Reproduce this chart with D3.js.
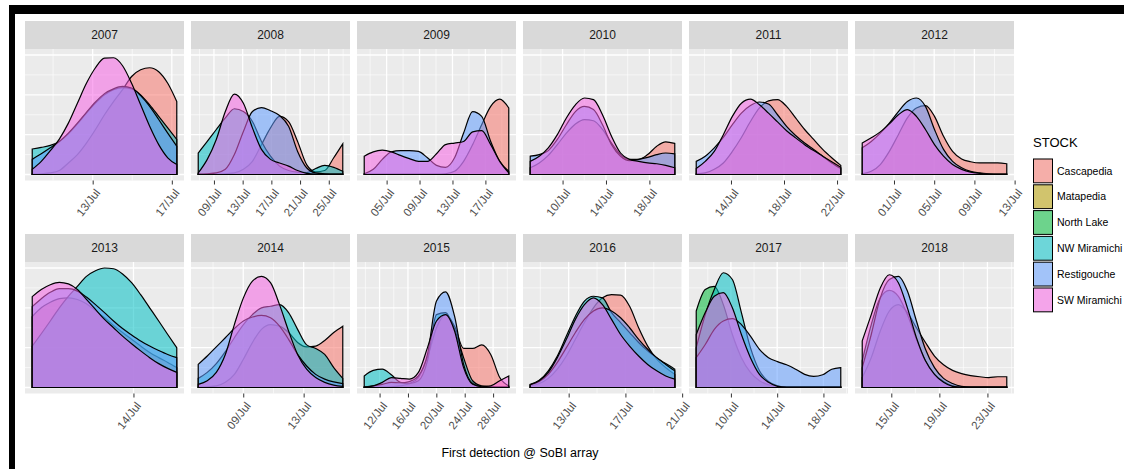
<!DOCTYPE html>
<meta charset="utf-8">
<body style="margin:0;background:#fff">
<script src="https://d3js.org/d3.v7.min.js"></script>
<script>

// facets, one per year; x range = first/last detection, as day of July
var years    = [2007, 2008, 2009, 2010, 2011, 2012, 2013, 2014, 2015, 2016, 2017, 2018];
var firstDay = [9.945, 6.81, 2.28, 7.02, 11.38, -2.16, 12.317, 6.02, 9.835, 10.29, 7.0, 12.58];
var lastDay  = [17.25, 26.95, 19.84, 20.34, 22.28, 12.22, 14.72, 15.59, 30.21, 20.48, 19.5, 24.61];
var tickDays = [[13, 17], [9, 13, 17, 21, 25], [5, 9, 13, 17], [10, 14, 18], [14, 18, 22], [1, 5, 9, 13],
                [14], [9, 13], [12, 16, 20, 24, 28], [13, 17, 21], [10, 14, 18], [15, 19, 23]];

var stocks = ["Cascapedia", "Matapedia", "North Lake", "NW Miramichi", "Restigouche", "SW Miramichi"];

// density read at 17 evenly spaced days between firstDay and lastDay (null = stock not detected)
var cascapedia = [
  [.001,.002,.004,.010,.029,.050,.079,.113,.150,.183,.213,.246,.263,.268,.258,.229,.183],
  [.001,.001,.001,.002,.004,.013,.033,.075,.117,.146,.133,.083,.025,.007,.010,.042,.077],
  [.001,.001,.001,.001,.001,.001,.001,.001,.001,.002,.008,.033,.075,.125,.171,.189,.167],
  [.017,.029,.048,.075,.104,.127,.138,.135,.113,.079,.050,.038,.038,.050,.071,.082,.078],
  [.002,.004,.013,.029,.058,.093,.133,.167,.185,.188,.171,.142,.113,.088,.063,.042,.023],
  [.002,.008,.025,.058,.100,.142,.167,.173,.146,.096,.058,.039,.032,.029,.029,.029,.027],
  [.178,.200,.214,.223,.225,.221,.210,.193,.175,.156,.138,.121,.104,.088,.075,.063,.050],
  [.001,.002,.004,.013,.033,.071,.113,.146,.158,.154,.138,.113,.102,.104,.118,.138,.154],
  [.001,.001,.001,.002,.004,.010,.025,.075,.150,.183,.154,.098,.098,.107,.083,.025,.004],
  [.004,.010,.023,.046,.079,.121,.163,.200,.225,.233,.232,.204,.150,.104,.071,.050,.033],
  null,
  [.025,.075,.142,.192,.208,.188,.150,.113,.079,.057,.043,.035,.030,.027,.025,.027,.027]
];
var matapedia = [null, null, null, null, null, null, null, null, null, null, null, null];
var northLake = [null, null, null, null, null, null, null, null, null, null,
  [.192,.246,.254,.208,.133,.075,.038,.017,.007,.003,.001,.001,.001,.001,.001,.001,.001],
  null];
var nwMiramichi = [
  [.064,.068,.073,.083,.102,.127,.154,.179,.200,.213,.218,.215,.200,.175,.146,.117,.088],
  [.054,.083,.113,.142,.165,.158,.133,.083,.046,.021,.010,.006,.005,.015,.023,.018,.008],
  null, null, null, null,
  [.104,.135,.167,.200,.229,.254,.279,.293,.300,.298,.285,.263,.233,.200,.167,.133,.100],
  [.023,.038,.060,.090,.125,.158,.183,.200,.204,.208,.188,.146,.107,.098,.083,.050,.023],
  [.029,.043,.046,.032,.013,.010,.017,.067,.183,.188,.146,.075,.017,.004,.002,.001,.001],
  [.008,.018,.042,.079,.129,.179,.217,.229,.225,.188,.163,.138,.113,.092,.075,.060,.046],
  [.100,.183,.246,.288,.271,.188,.100,.042,.015,.004,.001,.001,.001,.001,.001,.001,.001],
  [.067,.158,.225,.244,.229,.183,.121,.067,.033,.015,.004,.001,.001,.001,.001,.001,.001]
];
var restigouche = [
  [.038,.052,.067,.083,.104,.129,.156,.182,.203,.215,.221,.217,.198,.171,.138,.104,.071],
  [.001,.002,.004,.013,.050,.108,.158,.168,.160,.148,.121,.058,.017,.004,.002,.001,.001],
  [.002,.013,.038,.057,.060,.060,.058,.042,.023,.018,.042,.104,.158,.146,.083,.033,.008],
  [.046,.050,.060,.088,.125,.158,.171,.163,.125,.075,.046,.035,.038,.043,.050,.054,.052],
  [.033,.046,.067,.093,.125,.154,.173,.182,.177,.150,.121,.098,.079,.063,.046,.029,.015],
  [.067,.083,.104,.129,.158,.183,.192,.171,.113,.063,.033,.017,.008,.004,.002,.001,.001],
  [.203,.223,.239,.248,.248,.242,.227,.208,.188,.167,.148,.132,.117,.104,.093,.083,.075],
  [.058,.079,.102,.125,.148,.167,.177,.181,.175,.154,.121,.083,.054,.033,.021,.014,.010],
  [.001,.004,.008,.013,.012,.015,.029,.083,.217,.240,.179,.058,.010,.002,.001,.001,.001],
  [.007,.015,.033,.063,.100,.138,.171,.192,.200,.192,.175,.150,.121,.096,.075,.058,.042],
  [.075,.108,.146,.167,.173,.158,.129,.096,.075,.065,.057,.046,.033,.028,.032,.046,.050],
  [.050,.133,.225,.271,.279,.242,.167,.096,.050,.023,.010,.003,.001,.001,.001,.001,.001]
];
var swMiramichi = [
  [.013,.033,.060,.089,.129,.179,.229,.268,.292,.293,.273,.229,.175,.121,.075,.042,.025],
  [.004,.038,.088,.158,.202,.179,.117,.063,.038,.029,.021,.010,.003,.001,.001,.001,.001],
  [.046,.057,.061,.057,.048,.040,.033,.033,.052,.075,.079,.083,.107,.110,.075,.033,.004],
  [.033,.046,.067,.100,.142,.175,.192,.188,.150,.096,.054,.038,.033,.029,.027,.023,.017],
  [.015,.033,.058,.100,.146,.179,.189,.175,.154,.132,.110,.092,.075,.060,.046,.032,.018],
  [.079,.092,.107,.127,.150,.163,.146,.113,.075,.046,.025,.013,.006,.003,.001,.001,.001],
  [.228,.246,.258,.264,.260,.246,.221,.196,.171,.150,.129,.110,.092,.075,.060,.048,.038],
  [.008,.017,.038,.083,.158,.225,.267,.279,.263,.208,.142,.083,.046,.025,.013,.006,.003],
  [.001,.004,.013,.025,.023,.021,.038,.100,.167,.183,.142,.050,.008,.002,.004,.017,.029],
  [.007,.017,.038,.075,.121,.171,.208,.225,.208,.171,.133,.104,.079,.058,.042,.029,.021],
  [.133,.188,.229,.238,.200,.133,.075,.033,.013,.003,.001,.001,.001,.001,.001,.001,.001],
  [.117,.183,.250,.283,.263,.200,.125,.067,.033,.013,.003,.001,.001,.001,.001,.001,.001]
];

var series = [cascapedia, matapedia, northLake, nwMiramichi, restigouche, swMiramichi];
var colors = ["#F8766D", "#B79F00", "#00BA38", "#00BFC4", "#619CFF", "#F564E3"];

var panelW = 159, panelH = 131.5, stripH = 28;
var rowTop = [49, 262];
var font = "'Liberation Sans', Arial, sans-serif";

var svg = d3.select("body").append("svg")
    .attr("width", 1124)
    .attr("height", 469)
    .style("font-family", font);

// black frame bits of the screenshot
svg.append("rect").attr("x", 9).attr("y", 5).attr("width", 1115).attr("height", 9).attr("fill", "#000");
svg.append("rect").attr("x", 9).attr("y", 5).attr("width", 6).attr("height", 464).attr("fill", "#000");

var y = d3.scaleLinear().domain([-0.015, 0.315]).range([panelH, 0]);

function toDate(year, day) {
  return new Date(Date.UTC(year, 6, 1) + (day - 1) * 864e5);
}

years.forEach(function(yr, i) {
  var g = svg.append("g")
      .attr("transform", "translate(" + (25 + (i % 6) * 166) + "," + rowTop[Math.floor(i / 6)] + ")");

  var lo = firstDay[i], hi = lastDay[i], pad = (hi - lo) * 0.05;
  var x = d3.scaleUtc()
      .domain([toDate(yr, lo - pad), toDate(yr, hi + pad)])
      .range([0, panelW]);

  //strip
  g.append("rect").attr("y", -stripH).attr("width", panelW).attr("height", stripH).attr("fill", "#D9D9D9");
  g.append("text")
      .attr("x", panelW / 2).attr("y", -stripH / 2).attr("dy", "0.36em")
      .attr("text-anchor", "middle").attr("fill", "#1A1A1A").style("font-size", "12px")
      .text(yr);

  //panel + grid
  g.append("rect").attr("width", panelW).attr("height", panelH).attr("fill", "#EBEBEB");

  var t = tickDays[i];
  var minor = [t[0] - 2].concat(t.map(function(d) { return d + 2; }))
      .filter(function(d) { return d > lo - pad && d < hi + pad; });

  g.selectAll("line.hmin").data([0.05, 0.15, 0.25]).enter().append("line")
      .attr("x2", panelW).attr("y1", y).attr("y2", y)
      .attr("stroke", "#fff").attr("stroke-width", 0.6);
  g.selectAll("line.vmin").data(minor).enter().append("line")
      .attr("x1", function(d) { return x(toDate(yr, d)); })
      .attr("x2", function(d) { return x(toDate(yr, d)); })
      .attr("y2", panelH)
      .attr("stroke", "#fff").attr("stroke-width", 0.6);
  g.selectAll("line.hmaj").data([0, 0.1, 0.2, 0.3]).enter().append("line")
      .attr("x2", panelW).attr("y1", y).attr("y2", y)
      .attr("stroke", "#fff").attr("stroke-width", 1.3);
  g.selectAll("line.vmaj").data(t).enter().append("line")
      .attr("x1", function(d) { return x(toDate(yr, d)); })
      .attr("x2", function(d) { return x(toDate(yr, d)); })
      .attr("y2", panelH)
      .attr("stroke", "#fff").attr("stroke-width", 1.3);

  //densities, drawn in stock order
  var area = d3.area()
      .x(function(d, k) { return x(toDate(yr, lo + (hi - lo) * k / 16)); })
      .y0(y(0))
      .y1(function(d) { return y(d); })
      .curve(d3.curveMonotoneX);

  series.forEach(function(s, j) {
    if (!s[i]) return;
    g.append("path")
        .attr("d", area(s[i]))
        .attr("fill", colors[j])
        .attr("fill-opacity", 0.55)
        .attr("stroke", "#000")
        .attr("stroke-width", 1.2);
  });

  //x axis
  var ax = g.append("g")
      .attr("transform", "translate(0," + panelH + ")")
      .call(d3.axisBottom(x)
        .tickValues(t.map(function(d) { return toDate(yr, d); }))
        .tickFormat(d3.utcFormat("%d/%b"))
        .tickSize(4)
        .tickSizeOuter(0));
  ax.select(".domain").remove();
  ax.selectAll(".tick line").attr("stroke", "#333");
  ax.selectAll(".tick text")
      .attr("x", 0).attr("y", 0).attr("dy", "0.35em")
      .attr("transform", "translate(4.5,10) rotate(-52)")
      .attr("text-anchor", "end")
      .attr("fill", "#4D4D4D")
      .style("font-size", "11.5px")
      .style("font-family", font);
});

svg.append("text")
    .attr("x", 520).attr("y", 457)
    .attr("text-anchor", "middle")
    .style("font-size", "12.5px")
    .text("First detection @ SoBI array");

//legend
var leg = svg.append("g").attr("transform", "translate(1033,147)");
leg.append("text").style("font-size", "13px").text("STOCK");

var key = leg.selectAll("g.key").data(stocks).enter().append("g")
    .attr("transform", function(d, k) { return "translate(0," + (11 + k * 25.8) + ")"; });
key.append("rect").attr("width", 20).attr("height", 25.8).attr("fill", "#F2F2F2");
key.append("rect")
    .attr("x", 0.5).attr("y", 1).attr("width", 19).attr("height", 23.8)
    .attr("fill", function(d, k) { return colors[k]; })
    .attr("fill-opacity", 0.55)
    .attr("stroke", "#000").attr("stroke-width", 1);
key.append("text")
    .attr("x", 24).attr("y", 12.9).attr("dy", "0.35em")
    .style("font-size", "10.5px")
    .text(function(d) { return d; });

</script>
